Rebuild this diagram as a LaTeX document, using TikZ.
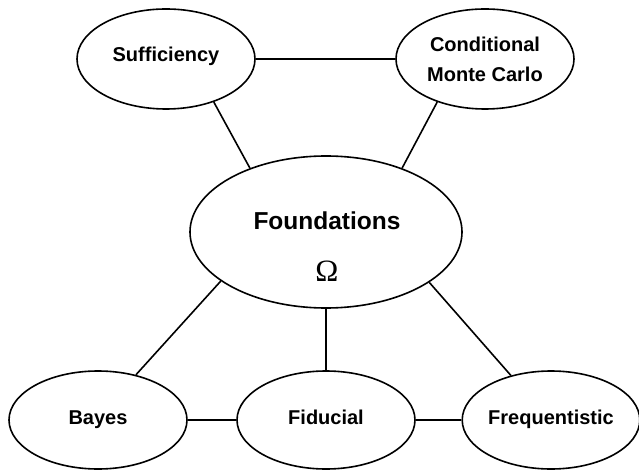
\documentclass[tikz,border=0pt]{standalone}
\usepackage{fontspec}
\setmainfont{Liberation Sans}
\newfontfamily\omegafont{Liberation Serif}
\usetikzlibrary{shapes.geometric}
\begin{document}
\begin{tikzpicture}[x=1pt,y=-1pt,
  bubble/.style={ellipse, draw=black, line width=1.6pt, minimum width=178pt, minimum height=98pt, inner sep=0pt, font=\fontsize{20}{30}\selectfont\bfseries, align=center},
  oneline/.style={text height=0.72em, text depth=0.22em},
  lowline/.style={text height=0.85em, text depth=0.05em},
  link/.style={line width=1.6pt},
  lbl/.style={inner sep=0pt}]
\useasboundingbox (0,0) rectangle (639,470);
\node[bubble, oneline, minimum height=100pt] (suf) at (166,59) {Sufficiency};
\node[bubble, minimum height=100pt] (cmc) at (485,59) {Conditional\\Monte Carlo};
\node[bubble, minimum width=272pt, minimum height=152pt] (fnd) at (326,232) {};
\node[lbl, font=\fontsize{24.5}{28}\selectfont\bfseries] (fndt) at (327,221) {Foundations};
\node[lbl, font=\fontsize{31}{32}\selectfont\omegafont] (omega) at (327,271) {Ω};
\node[bubble, lowline] (bay) at (98,420) {Bayes};
\node[bubble, lowline] (fid) at (326,420) {Fiducial};
\node[bubble, lowline, minimum width=176pt] (fre) at (551,420) {Frequentistic};
\draw[link] (suf.east) -- (cmc.west);
\draw[link] (suf.-42) -- (fnd.140);
\draw[link] (cmc.222) -- (fnd.40);
\draw[link] (fnd.205) -- (bay.50);
\draw[link] (fnd.south) -- (fid.north);
\draw[link] (fnd.-26) -- (fre.132);
\draw[link] (bay.east) -- (fid.west);
\draw[link] (fid.east) -- (fre.west);
\end{tikzpicture}
\end{document}
